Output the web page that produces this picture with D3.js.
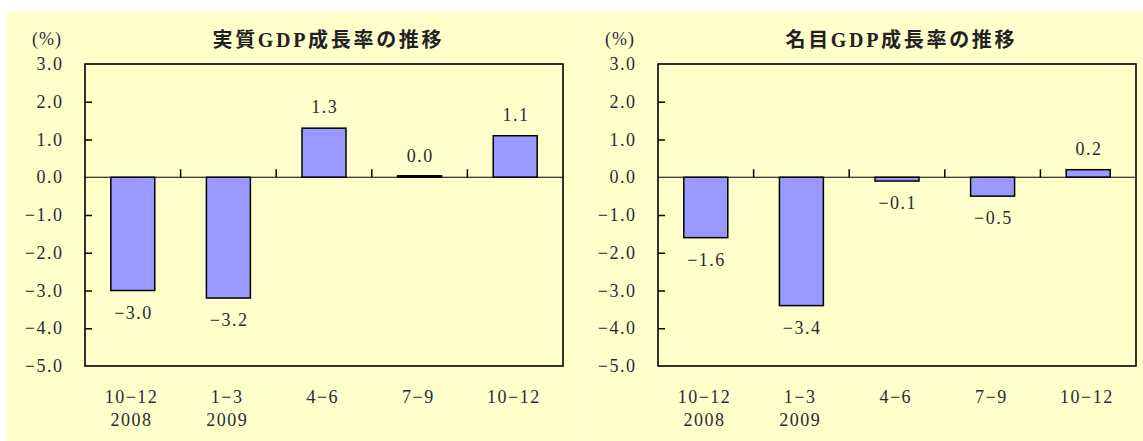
<!DOCTYPE html>
<html>
<head>
<meta charset="utf-8">
<script src="https://cdn.jsdelivr.net/npm/d3@7"></script>
<style>
  body { margin: 0; background: #fff; }
  svg { display: block; }
</style>
</head>
<body>
<svg></svg>
<script>
// quarter labels on the x axis
let quarters = ['10\u221212', '1\u22123', '4\u22126', '7\u22129', '10\u221212']
// second line under the quarter (year)
let years = ['2008', '2009', '', '', '']
// 実質 GDP growth (%)
let realGrowth = [-3.0, -3.2, 1.3, 0.0, 1.1]
// 名目 GDP growth (%)
let nominalGrowth = [-1.6, -3.4, -0.1, -0.5, 0.2]
let yTicks = [3, 2, 1, 0, -1, -2, -3, -4, -5]

let titles = ['実質GDP成長率の推移', '名目GDP成長率の推移']

let width = 1143
let height = 441
let textColor = '#2a2a3a'
let serif = '"Liberation Serif", serif'
let spacing = 1.5

let svg = d3.select('svg')
    .attr('width', width)
    .attr('height', height)

// yellow background
svg.append('rect')
    .attr('x', 7).attr('y', 11)
    .attr('width', width - 7).attr('height', height - 11)
    .attr('fill', '#ffffcc')
// faint split between the two panels
svg.append('rect')
    .attr('x', 581).attr('y', 11)
    .attr('width', 2).attr('height', height - 11)
    .attr('fill', '#ffffe4')

let fmt = (v) => d3.format('.1f')(v).replace('-', '\u2212')

let drawPanel = (left, title, values) => {
    let top = 64
    let bottom = 366
    let right = left + 478

    let xScale = d3.scaleBand()
        .domain(d3.range(values.length))
        .range([left, right])
        .padding(0)
    let yScale = d3.scaleLinear()
        .domain([-5, 3])
        .range([bottom, top])

    let g = svg.append('g')

    // title
    g.append('text')
        .attr('x', (left + right) / 2 + 3)
        .attr('y', 47)
        .attr('text-anchor', 'middle')
        .attr('font-family', '"Liberation Serif", "Noto Sans CJK JP", serif')
        .attr('font-weight', 'bold')
        .attr('font-size', 20)
        .attr('textLength', 229)
        .attr('lengthAdjust', 'spacing')
        .attr('fill', '#222')
        .text(title)

    g.append('text')
        .attr('x', left - 38)
        .attr('y', 45)
        .attr('text-anchor', 'middle')
        .attr('font-family', serif)
        .attr('font-size', 18)
        .attr('letter-spacing', 1)
        .attr('fill', textColor)
        .text('(%)')

    // y axis ticks (inside)
    let yAxis = d3.axisRight(yScale)
        .tickValues(yTicks.filter((t) => t != 3 && t != -5 && t != 0))
        .tickSize(7)
        .tickFormat('')
    g.append('g')
        .attr('transform', 'translate(' + left + ',0)')
        .call(yAxis)
        .call((a) => a.select('.domain').remove())
        .call((a) => a.selectAll('line').attr('stroke', '#000').attr('stroke-width', 1.5))

    g.selectAll('.ylab')
        .data(yTicks)
        .enter()
        .append('text')
        .attr('class', 'ylab')
        .attr('x', left - 23 + spacing)
        .attr('y', (d) => yScale(d) + 6)
        .attr('text-anchor', 'end')
        .attr('font-family', serif)
        .attr('font-size', 18)
        .attr('letter-spacing', spacing)
        .attr('fill', textColor)
        .text((d) => fmt(d))

    // bars
    let barW = xScale.bandwidth() * 0.46
    g.selectAll('.bar')
        .data(values)
        .enter()
        .append('rect')
        .attr('class', 'bar')
        .attr('x', (d, i) => xScale(i) + (xScale.bandwidth() - barW) / 2)
        .attr('width', barW)
        .attr('y', (d) => Math.min(yScale(d), yScale(0)) - (d == 0 ? 1.5 : 0))
        .attr('height', (d) => Math.max(1.5, Math.abs(yScale(d) - yScale(0))))
        .attr('fill', (d) => d == 0 ? '#000' : '#9999ff')
        .attr('stroke', '#000')
        .attr('stroke-width', 1.5)

    // zero line
    g.append('line')
        .attr('x1', left).attr('x2', right)
        .attr('y1', yScale(0)).attr('y2', yScale(0))
        .attr('stroke', '#000')
        .attr('stroke-width', 1.2)

    // category boundary ticks on the zero line
    g.selectAll('.xtick')
        .data(d3.range(1, values.length))
        .enter()
        .append('line')
        .attr('class', 'xtick')
        .attr('x1', (i) => xScale(i)).attr('x2', (i) => xScale(i))
        .attr('y1', yScale(0)).attr('y2', yScale(0) - 8)
        .attr('stroke', '#000')
        .attr('stroke-width', 1.5)

    // frame
    g.append('rect')
        .attr('x', left).attr('y', top)
        .attr('width', right - left).attr('height', bottom - top)
        .attr('fill', 'none')
        .attr('stroke', '#000')
        .attr('stroke-width', 1.6)

    // value labels
    g.selectAll('.vlab')
        .data(values)
        .enter()
        .append('text')
        .attr('class', 'vlab')
        .attr('x', (d, i) => xScale(i) + xScale.bandwidth() / 2 + spacing / 2)
        .attr('y', (d) => d >= 0 ? yScale(d) - 15 : yScale(d) + 28)
        .attr('text-anchor', 'middle')
        .attr('font-family', serif)
        .attr('font-size', 18)
        .attr('letter-spacing', spacing)
        .attr('fill', textColor)
        .text((d) => fmt(d))

    // x labels
    g.selectAll('.xlab')
        .data(quarters)
        .enter()
        .append('text')
        .attr('class', 'xlab')
        .attr('x', (d, i) => xScale(i) + xScale.bandwidth() / 2 - 2 + spacing / 2)
        .attr('y', 403)
        .attr('text-anchor', 'middle')
        .attr('font-family', serif)
        .attr('font-size', 18)
        .attr('letter-spacing', spacing)
        .attr('fill', textColor)
        .text((d) => d)

    g.selectAll('.ylab2')
        .data(years)
        .enter()
        .append('text')
        .attr('class', 'ylab2')
        .attr('x', (d, i) => xScale(i) + xScale.bandwidth() / 2 - 2 + spacing / 2)
        .attr('y', 426)
        .attr('text-anchor', 'middle')
        .attr('font-family', serif)
        .attr('font-size', 18)
        .attr('letter-spacing', spacing)
        .attr('fill', textColor)
        .text((d) => d)
}

drawPanel(85, titles[0], realGrowth)
drawPanel(658, titles[1], nominalGrowth)
</script>
</body>
</html>
